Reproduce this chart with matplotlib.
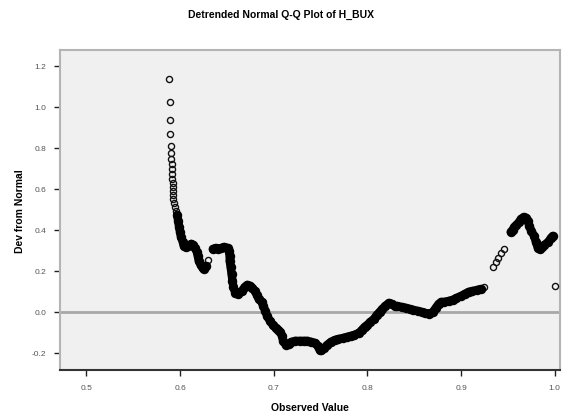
import matplotlib
matplotlib.use("Agg")
import matplotlib.pyplot as plt

observed = [
    0.588, 0.589, 0.589, 0.589, 0.590, 0.590, 0.590, 0.591, 0.591, 0.591,
    0.591, 0.592, 0.592, 0.592, 0.593, 0.593, 0.594, 0.595, 0.596, 0.597,
    0.598, 0.599, 0.600, 0.601, 0.603, 0.604, 0.606, 0.609, 0.612, 0.614,
    0.616, 0.618, 0.619, 0.620, 0.622, 0.624, 0.626, 0.628, 0.630, 0.635,
    0.638, 0.641, 0.644, 0.647, 0.651, 0.652, 0.653, 0.653, 0.654, 0.655,
    0.656, 0.657, 0.659, 0.662, 0.666, 0.669, 0.672, 0.675, 0.677, 0.680,
    0.682, 0.684, 0.687, 0.689, 0.691, 0.693, 0.696, 0.699, 0.702, 0.705,
    0.707, 0.709, 0.710, 0.713, 0.716, 0.719, 0.723, 0.728, 0.732, 0.736,
    0.740, 0.744, 0.747, 0.749, 0.751, 0.754, 0.757, 0.761, 0.765, 0.769,
    0.774, 0.778, 0.782, 0.786, 0.791, 0.794, 0.797, 0.800, 0.803, 0.807,
    0.810, 0.813, 0.816, 0.819, 0.823, 0.826, 0.829, 0.832, 0.837, 0.841,
    0.845, 0.849, 0.854, 0.858, 0.862, 0.866, 0.870, 0.873, 0.876, 0.879,
    0.882, 0.887, 0.891, 0.895, 0.900, 0.904, 0.908, 0.912, 0.917, 0.921,
    0.924, 0.934, 0.937, 0.940, 0.943, 0.946, 0.953, 0.955, 0.957, 0.959,
    0.962, 0.964, 0.967, 0.969, 0.971, 0.973, 0.975, 0.978, 0.980, 0.982,
    0.984, 0.986, 0.989, 0.993, 0.996, 0.998, 1.000,
]
dev_from_normal = [
    1.137, 1.024, 0.937, 0.868, 0.810, 0.776, 0.746, 0.722, 0.698, 0.673,
    0.649, 0.629, 0.610, 0.590, 0.571, 0.551, 0.532, 0.512, 0.493, 0.473,
    0.444, 0.415, 0.390, 0.366, 0.341, 0.322, 0.317, 0.322, 0.332, 0.327,
    0.312, 0.293, 0.273, 0.249, 0.229, 0.215, 0.210, 0.224, 0.254, 0.307,
    0.312, 0.307, 0.312, 0.317, 0.312, 0.298, 0.273, 0.249, 0.220, 0.185,
    0.151, 0.122, 0.093, 0.088, 0.102, 0.122, 0.132, 0.127, 0.117, 0.102,
    0.083, 0.063, 0.049, 0.029, 0.005, -0.020, -0.044, -0.063, -0.078, -0.088,
    -0.098, -0.117, -0.141, -0.161, -0.156, -0.146, -0.141, -0.141, -0.141, -0.141,
    -0.146, -0.151, -0.166, -0.185, -0.185, -0.176, -0.161, -0.146, -0.137, -0.132,
    -0.127, -0.122, -0.117, -0.112, -0.102, -0.088, -0.073, -0.063, -0.049, -0.034,
    -0.015, 0.000, 0.015, 0.029, 0.044, 0.039, 0.029, 0.029, 0.024, 0.020,
    0.015, 0.010, 0.005, 0.000, -0.005, -0.010, 0.000, 0.020, 0.039, 0.049,
    0.049, 0.054, 0.059, 0.068, 0.078, 0.088, 0.098, 0.102, 0.107, 0.112,
    0.122, 0.220, 0.244, 0.263, 0.288, 0.307, 0.390, 0.400, 0.415, 0.424,
    0.439, 0.454, 0.463, 0.459, 0.444, 0.420, 0.395, 0.371, 0.341, 0.312,
    0.307, 0.317, 0.327, 0.341, 0.361, 0.371, 0.127,
]

x_ticks = [0.5, 0.6, 0.7, 0.8, 0.9, 1.0]
y_ticks = [-0.2, 0.0, 0.2, 0.4, 0.6, 0.8, 1.0, 1.2]

# stretches where the circles pile up into a solid band
dense_runs = [(19, 38), (39, 130), (136, 156)]

plt.rcParams["font.family"] = ["Liberation Sans", "DejaVu Sans"]

fig = plt.figure(figsize=(5.62, 4.14), dpi=100)
ax = fig.add_axes([0.107, 0.104, 0.89, 0.773])
ax.set_facecolor("#f0f0f0")

ax.axhline(0.0, color="#a8a8a8", linewidth=2.0, zorder=1)
ax.plot(observed, dev_from_normal, linestyle="none", marker="o", markersize=4.4,
        markerfacecolor="none", markeredgecolor="#111111", markeredgewidth=1.0, zorder=3)
for a, b in dense_runs:
    ax.plot(observed[a:b], dev_from_normal[a:b], linestyle="-", color="black",
            linewidth=6.0, solid_capstyle="round", solid_joinstyle="round",
            marker="o", markersize=4.8, markerfacecolor="none",
            markeredgecolor="black", markeredgewidth=2.0, zorder=4)

ax.set_xlim(0.472, 1.006)
ax.set_ylim(-0.283, 1.278)
ax.set_xticks(x_ticks)
ax.set_xticklabels([f"{v:.1f}" for v in x_ticks])
ax.set_yticks(y_ticks)
ax.set_yticklabels([f"{v:.1f}" for v in y_ticks])
ax.tick_params(axis="both", direction="out", length=4, width=1, colors="#222222",
               labelsize=6, labelcolor="#555555", pad=6)

for side in ["left", "top", "right"]:
    ax.spines[side].set_color("#b4b4b4")
    ax.spines[side].set_linewidth(1.5)
ax.spines["bottom"].set_color("#333333")
ax.spines["bottom"].set_linewidth(1.5)

ax.set_xlabel("Observed Value", fontsize=7.5, fontweight="bold", labelpad=8)
ax.set_ylabel("Dev from Normal", fontsize=7.5, fontweight="bold", labelpad=5)
fig.suptitle("Detrended Normal Q-Q Plot of H_BUX", fontsize=7.5, fontweight="bold",
             x=0.5, y=0.975)

fig.savefig("out.png", dpi=100, facecolor="white")
